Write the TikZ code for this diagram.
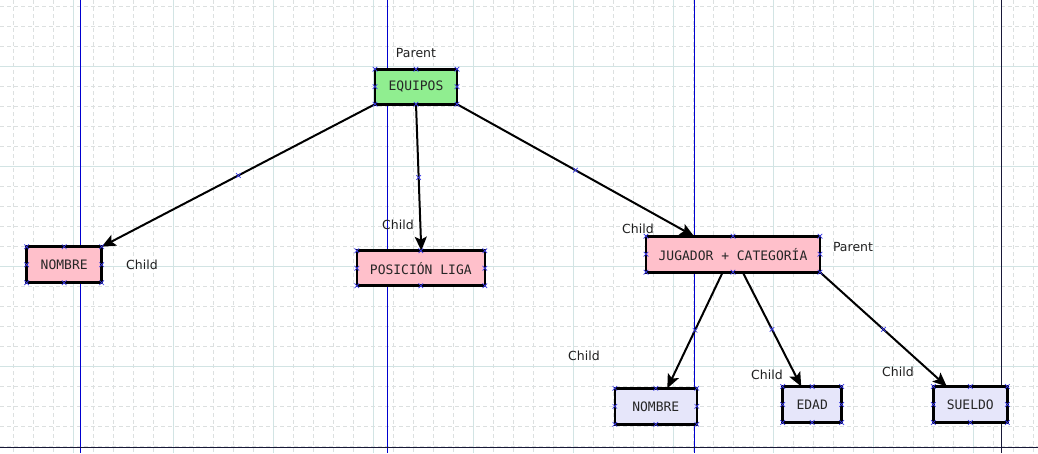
\documentclass[tikz,border=0pt]{standalone}
\usepackage{fontspec}
\setmainfont{DejaVu Sans}
\newfontfamily\boxfont{DejaVu Sans Mono}
\usetikzlibrary{calc,arrows.meta}
\definecolor{minorgrid}{HTML}{DCE0E0}
\definecolor{majorgrid}{HTML}{D2E4E4}
\definecolor{pageblue}{HTML}{0000D0}
\definecolor{pagenavy}{HTML}{181838}
\definecolor{markblue}{HTML}{3A3AE8}
\definecolor{greenfill}{HTML}{90EE90}
\definecolor{pinkfill}{HTML}{FFC0CB}
\definecolor{lavfill}{HTML}{E6E6FA}
\definecolor{labeltext}{HTML}{202020}
\tikzset{
  minorline/.style={draw=minorgrid, line width=0.9pt, dash pattern=on 4pt off 3pt},
  majorline/.style={draw=majorgrid, line width=1pt},
  pageline/.style={draw=pageblue, line width=1.3pt},
  boxnode/.style={draw=black, line width=2.6pt, rectangle, inner sep=0pt, outer sep=0pt,
    font=\boxfont\fontsize{13}{15}\selectfont, text=black!85},
  greenbox/.style={boxnode, fill=greenfill},
  pinkbox/.style={boxnode, fill=pinkfill},
  lavbox/.style={boxnode, fill=lavfill},
  lbl/.style={font=\fontsize{12.5}{14}\selectfont, text=labeltext, inner sep=0pt},
  conn/.style={draw=black, line width=2pt, -{Stealth[length=14pt,width=12pt,inset=3pt]}},
  pics/xm/.style={code={\draw[markblue,line width=0.7pt] (-2.3pt,-2.3pt)--(2.3pt,2.3pt) (-2.3pt,2.3pt)--(2.3pt,-2.3pt);}}
}
\begin{document}
\begin{tikzpicture}[x=1pt,y=-1pt]
\useasboundingbox (0,0) rectangle (1038,453);
\fill[white] (0,0) rectangle (1038,453);
% grid
\foreach \x in {13,33,...,1033} \draw[minorline] (\x,0) -- (\x,453);
\foreach \y in {6,26,...,446} \draw[minorline] (0,\y) -- (1038,\y);
\foreach \x in {73,173,...,973} \draw[majorline] (\x,0) -- (\x,453);
\foreach \y in {66,166,266,366} \draw[majorline] (0,\y) -- (1038,\y);
% page lines
\draw[pageline] (80.5,0) -- (80.5,453);
\draw[pageline] (387.2,0) -- (387.2,453);
\draw[pageline] (694.5,0) -- (694.5,453);
\draw[pagenavy, line width=1.2pt] (1001.5,0) -- (1001.5,453);
\draw[pagenavy, line width=1.2pt] (0,447.5) -- (1038,447.5);
% nodes
\node[greenbox, minimum width=82pt, minimum height=35pt] (equipos) at (416,86.7) {EQUIPOS};
\node[pinkbox, minimum width=75pt, minimum height=36pt] (nombreA) at (64.2,264.7) {NOMBRE};
\node[pinkbox, minimum width=128pt, minimum height=35pt] (posicion) at (420.8,268.2) {POSICIÓN LIGA};
\node[pinkbox, minimum width=174pt, minimum height=36pt] (jugador) at (733,254.2) {JUGADOR + CATEGORÍA};
\node[lavbox, minimum width=82pt, minimum height=36pt] (nombreB) at (655.8,406.3) {NOMBRE};
\node[lavbox, minimum width=59pt, minimum height=36pt] (edad) at (812.2,404.5) {EDAD};
\node[lavbox, minimum width=74pt, minimum height=36pt] (sueldo) at (970.3,404.5) {SUELDO};
% labels
\node[lbl] (lparent1) at (416,53) {Parent};
\node[lbl] (lchild1) at (142,265) {Child};
\node[lbl] (lchild2) at (398,225) {Child};
\node[lbl] (lchild3) at (638,229) {Child};
\node[lbl] (lparent2) at (853,247) {Parent};
\node[lbl] (lchild4) at (584,356) {Child};
\node[lbl] (lchild5) at (767,375) {Child};
\node[lbl] (lchild6) at (898,372) {Child};
% connector end points
\coordinate (e1s) at (equipos.south west);
\coordinate (e1e) at (nombreA.north east);
\coordinate (e2s) at (equipos.south);
\coordinate (e2e) at ($(posicion.north)+(0.5,0)$);
\coordinate (e3s) at (equipos.south east);
\coordinate (e3e) at ($(jugador.north west)!0.552!(jugador.north)$);
\coordinate (e4s) at ($(jugador.south)+(-10.3,0)$);
\coordinate (e4e) at ($(nombreB.north)+(11.5,0)$);
\coordinate (e5s) at ($(jugador.south)+(9.7,0)$);
\coordinate (e5e) at ($(edad.north)+(-11,0)$);
\coordinate (e6s) at (jugador.south east);
\coordinate (e6e) at ($(sueldo.north west)+(13.5,0)$);
% connectors
\draw[conn] (e1s) -- (e1e);
\draw[conn] (e2s) -- (e2e);
\draw[conn] (e3s) -- (e3e);
\draw[conn] (e4s) -- (e4e);
\draw[conn] (e5s) -- (e5e);
\draw[conn] (e6s) -- (e6e);
% markers
\foreach \n in {equipos,nombreA,posicion,jugador,nombreB,edad,sueldo}
  \foreach \a in {north west,north,north east,east,south east,south,south west,west}
    \pic at (\n.\a) {xm};
\foreach \i in {1,...,6}
  \pic at ($(e\i s)!0.5!(e\i e)$) {xm};
\end{tikzpicture}
\end{document}
